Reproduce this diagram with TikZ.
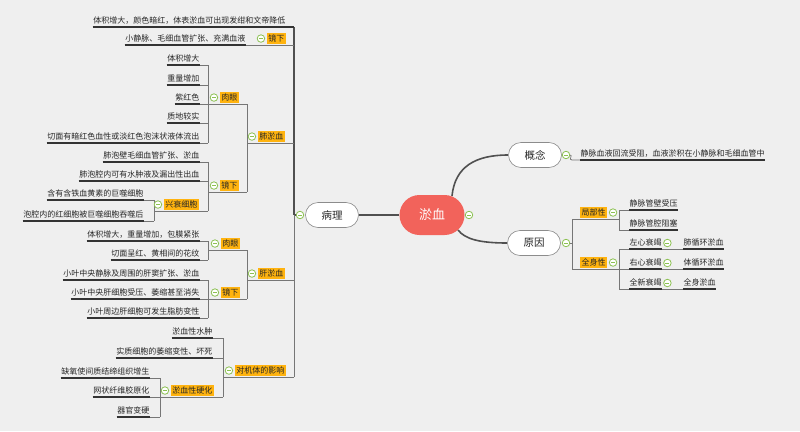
\documentclass[tikz,border=0pt]{standalone}
\usepackage{fontspec}
\setmainfont{Noto Sans CJK SC}
\usetikzlibrary{positioning}
\definecolor{bgc}{HTML}{EFEFEF}
\definecolor{connc}{HTML}{767676}
\definecolor{ulc}{HTML}{333333}
\definecolor{bigc}{HTML}{505050}
\definecolor{tagc}{HTML}{FFB30F}
\definecolor{rootc}{HTML}{F2635B}
\definecolor{tgreen}{HTML}{8CC152}
\definecolor{txt}{HTML}{262626}
\pgfdeclarelayer{back}
\pgfdeclarelayer{lines}
\pgfsetlayers{back,lines,main}
\begin{document}
\begin{tikzpicture}[x=1pt,y=-1pt,
  leaf/.style={font=\fontsize{8}{9}\selectfont, text=txt, inner xsep=0.5pt, inner ysep=2.5pt, text height=6.5pt, text depth=1pt, anchor=south east},
  leafL/.style={leaf, anchor=south west},
  tag/.style={fill=tagc, font=\fontsize{8}{9}\selectfont, text=txt, inner xsep=1.5pt, inner ysep=1.5pt, text height=6.5pt, text depth=1pt, anchor=south east},
  topic/.style={draw=black!45, fill=white, line width=0.6pt, rounded corners=12.5pt, minimum width=53pt, minimum height=25pt, font=\fontsize{10.5}{12}\selectfont, text=txt},
  rootn/.style={fill=rootc, rounded corners=20pt, minimum width=65pt, minimum height=40pt, text=white, font=\fontsize{13}{15}\selectfont},
  tog/.style={circle, draw=tgreen, fill=white, line width=0.8pt, minimum size=7.5pt, inner sep=0pt,
    path picture={\draw[tgreen, line width=0.9pt] ([xshift=1.8pt]path picture bounding box.west) -- ([xshift=-1.8pt]path picture bounding box.east);}},
  uline/.style={draw=ulc, line width=1.3pt},
  conn/.style={draw=connc, line width=0.7pt},
  big/.style={draw=bigc, line width=1.6pt}]
\useasboundingbox (0,0) rectangle (800,431);
\begin{pgfonlayer}{back}
\fill[bgc] (0,0) rectangle (800,431);
\end{pgfonlayer}

% root and main topics
\node[rootn] (root) at (432,215) {淤血};
\node[topic] (bl) at (332,215) {病理};
\node[topic] (gn) at (535,155) {概念};
\node[topic] (yy) at (534,243) {原因};
\node[tog] (troot) at (469,215) {};
\node[tog] (tbl) at (300,215) {};
\node[tog] (tgn) at (566,155) {};
\node[tog] (tyy) at (566,243) {};
\coordinate (bx) at (294,215);

% 病理 children
\node[leaf] (t1) at (286,27) {体积增大，颜色暗红，体表淤血可出现发绀和文帝降低};
\node[tag] (k0) at (286,44) {镜下};
\node[tog, left=1.5pt of k0] (tk0) {};
\node[leaf] (k0a) at (246,45) {小静脉、毛细血管扩张、充满血液};

% 肺淤血
\node[tag] (f) at (285,142) {肺淤血};
\node[tog, left=1.5pt of f] (tf) {};
\coordinate (fb) at (247,143);
\node[tag] (fr) at (239,103) {肉眼};
\node[tog, left=1.5pt of fr] (tfr) {};
\coordinate (frb) at (208,104);
\node[leaf] (fr1) at (200,65) {体积增大};
\node[leaf] (fr2) at (200,85) {重量增加};
\node[leaf] (fr3) at (200,104) {紫红色};
\node[leaf] (fr4) at (200,123) {质地较实};
\node[leaf] (fr5) at (200,143) {切面有暗红色血性或淡红色泡沫状液体流出};
\node[tag] (fj) at (239,191) {镜下};
\node[tog, left=1.5pt of fj] (tfj) {};
\coordinate (fjb) at (208,192);
\node[leaf] (fj1) at (200,162) {肺泡壁毛细血管扩张、淤血};
\node[leaf] (fj2) at (200,181) {肺泡腔内可有水肿液及漏出性出血};
\node[tag] (fx) at (199,210) {兴衰细胞};
\node[tog, left=1.5pt of fx] (tfx) {};
\coordinate (fxb) at (154,211);
\node[leaf] (fx1) at (144,200) {含有含铁血黄素的巨噬细胞};
\node[leaf] (fx2) at (144,221) {泡腔内的红细胞被巨噬细胞吞噬后};

% 肝淤血
\node[tag] (g) at (285,279) {肝淤血};
\node[tog, left=1.5pt of g] (tg) {};
\coordinate (gb) at (247,280);
\node[tag] (gr) at (240,249) {肉眼};
\node[tog, left=1.5pt of gr] (tgr) {};
\coordinate (grb) at (208,250);
\node[leaf] (gr1) at (200,241) {体积增大，重量增加，包膜紧张};
\node[leaf] (gr2) at (200,260) {切面呈红、黄相间的花纹};
\node[tag] (gj) at (240,298) {镜下};
\node[tog, left=1.5pt of gj] (tgj) {};
\coordinate (gjb) at (208,299);
\node[leaf] (gj1) at (200,280) {小叶中央静脉及周围的肝窦扩张、淤血};
\node[leaf] (gj2) at (200,299) {小叶中央肝细胞受压、萎缩甚至消失};
\node[leaf] (gj3) at (200,318) {小叶周边肝细胞可发生脂肪变性};

% 对机体的影响
\node[tag] (e) at (286,376) {对机体的影响};
\node[tog, left=1.5pt of e] (te) {};
\coordinate (eb) at (223,377);
\node[leaf] (e1) at (213,338) {淤血性水肿};
\node[leaf] (e2) at (213,358) {实质细胞的萎缩变性、坏死};
\node[tag] (ey) at (214,396) {淤血性硬化};
\node[tog, left=1.5pt of ey] (tey) {};
\coordinate (eyb) at (160,397);
\node[leaf] (ey1) at (150,378) {缺氧使间质结缔组织增生};
\node[leaf] (ey2) at (150,397) {网状纤维胶原化};
\node[leaf] (ey3) at (150,417) {器官变硬};

% right side
\node[leafL] (gn1) at (580,160) {静脉血液回流受阻，血液淤积在小静脉和毛细血管中};
\coordinate (yb) at (572,243);
\node[tag, anchor=south west] (jb) at (580,218) {局部性};
\node[tog, right=1.5pt of jb] (tjb) {};
\coordinate (jbb) at (619,219);
\node[leafL] (j1) at (629,210) {静脉管壁受压};
\node[leafL] (j2) at (629,230) {静脉管腔阻塞};
\node[tag, anchor=south west] (qs) at (580,268) {全身性};
\node[tog, right=1.5pt of qs] (tqs) {};
\coordinate (qsb) at (619,269);
\node[leafL] (q1) at (629,249) {左心衰竭};
\node[leafL] (q2) at (629,269) {右心衰竭};
\node[leafL] (q3) at (629,289) {全新衰竭};
\node[tog] (tq1) at ([xshift=5pt,yshift=6pt]q1.south east) {};
\node[tog] (tq2) at ([xshift=5pt,yshift=6pt]q2.south east) {};
\node[tog] (tq3) at ([xshift=5pt,yshift=6pt]q3.south east) {};
\node[leafL] (r1) at (683,249) {肺循环淤血};
\node[leafL] (r2) at (683,269) {体循环淤血};
\node[leafL] (r3) at (683,289) {全身淤血};

\begin{pgfonlayer}{lines}
% root connectors
\draw[big] (root.west) -- (bl.east);
\draw[big] ([shift={(20,-19)}]root.center) .. controls +(3,-30) and +(-32,0) .. (gn.west);
\draw[big] ([shift={(26,15)}]root.center) .. controls +(7,9) and +(-28,0) .. (yy.west);
% 病理 main bracket
\draw[big] (tbl.center) -- (bx);
\draw[big] (bx) -- (bx |- t1.south east);
\draw[uline] (t1.south west) -- (t1.south east -| bx);
\draw[conn] (bx) -- (bx |- eb);
\draw[conn] (k0a.south east) -- (k0a.south east -| bx);
% 肺淤血
\draw[conn] (fb) -- (fb -| bx);
\draw[conn] (fb |- frb) -- (fb |- fjb);
\draw[conn] (frb) -- (frb -| fb);
\draw[conn] (fjb) -- (fjb -| fb);
\draw[conn] (frb |- fr1.south) -- (frb |- fr5.south);
\draw[conn] (fjb |- fj1.south) -- (fjb |- fxb);
\draw[conn] (fxb) -- (fxb -| fjb);
\draw[conn] (fxb |- fx1.south) -- (fxb |- fx2.south);
% 肝淤血
\draw[conn] (gb) -- (gb -| bx);
\draw[conn] (gb |- grb) -- (gb |- gjb);
\draw[conn] (grb) -- (grb -| gb);
\draw[conn] (gjb) -- (gjb -| gb);
\draw[conn] (grb |- gr1.south) -- (grb |- gr2.south);
\draw[conn] (gjb |- gj1.south) -- (gjb |- gj3.south);
% 对机体的影响
\draw[conn] (eb) -- (eb -| bx);
\draw[conn] (eb |- e1.south) -- (eb |- eyb);
\draw[conn] (eyb) -- (eyb -| eb);
\draw[conn] (eyb |- ey1.south) -- (eyb |- ey3.south);
% leaves (left side)
\foreach \n/\b in {fr1/frb,fr2/frb,fr3/frb,fr4/frb,fr5/frb,fj1/fjb,fj2/fjb,fx1/fxb,fx2/fxb,
  gr1/grb,gr2/grb,gj1/gjb,gj2/gjb,gj3/gjb,e1/eb,e2/eb,ey1/eyb,ey2/eyb,ey3/eyb}{
  \draw[conn] (\n.south east) -- (\n.south east -| \b);
}
\foreach \n in {k0a,fr1,fr2,fr3,fr4,fr5,fj1,fj2,fx1,fx2,gr1,gr2,gj1,gj2,gj3,e1,e2,ey1,ey2,ey3}{
  \draw[uline] (\n.south west) -- (\n.south east);
}
% right side
\draw[conn] (tgn.east) .. controls +(3,0) and +(-4,0) .. ([xshift=-8pt]gn1.south west) -- (gn1.south west);
\draw[conn] (tyy.east) -- (yb);
\draw[conn] (yb |- jbb) -- (yb |- qsb);
\draw[conn] (yb |- jbb) -- (jbb);
\draw[conn] (yb |- qsb) -- (qsb);
\draw[conn] (jbb |- j1.south) -- (jbb |- j2.south);
\draw[conn] (qsb |- q1.south) -- (qsb |- q3.south);
\foreach \n/\b in {j1/jbb,j2/jbb,q1/qsb,q2/qsb,q3/qsb}{
  \draw[conn] (\n.south west -| \b) -- (\n.south west);
}
\draw[conn] (q1.south east) -- (r1.south west);
\draw[conn] (q2.south east) -- (r2.south west);
\draw[conn] (q3.south east) -- (r3.south west);
\foreach \n in {gn1,j1,j2,q1,q2,q3,r1,r2,r3}{
  \draw[uline] (\n.south west) -- (\n.south east);
}
\end{pgfonlayer}
\end{tikzpicture}
\end{document}
